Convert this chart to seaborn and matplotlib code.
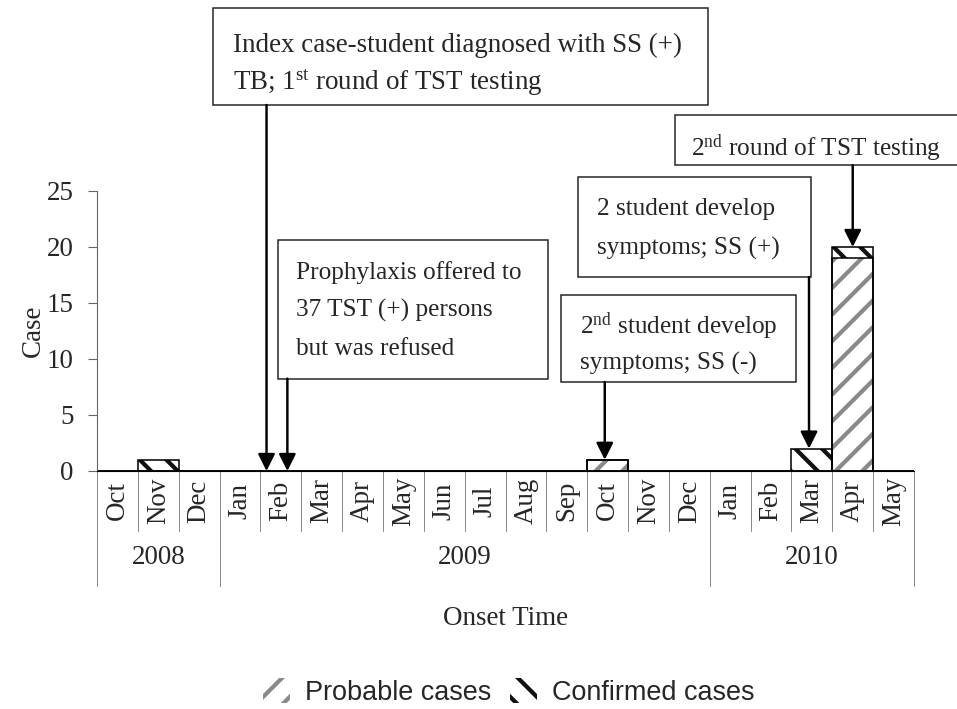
import matplotlib
matplotlib.use('Agg')
import matplotlib.pyplot as plt
import matplotlib.transforms as mtransforms
from matplotlib.patches import Patch, Rectangle
import seaborn as sns
import numpy as np
import pandas as pd

# Data: onset month of cases, Oct 2008 - May 2010
months = ['Oct', 'Nov', 'Dec',
          'Jan', 'Feb', 'Mar', 'Apr', 'May', 'Jun', 'Jul', 'Aug', 'Sep', 'Oct', 'Nov', 'Dec',
          'Jan', 'Feb', 'Mar', 'Apr', 'May']
years = ['2008', '2009', '2010']
year_first = [0, 3, 15]
year_last = [2, 14, 19]
probable = [0, 0, 0, 0, 0, 0, 0, 0, 0, 0, 0, 0, 1, 0, 0, 0, 0, 0, 19, 0]
confirmed = [0, 1, 0, 0, 0, 0, 0, 0, 0, 0, 0, 0, 0, 0, 0, 0, 0, 2, 1, 0]

df = pd.DataFrame({'pos': range(len(months)), 'probable': probable, 'confirmed': confirmed})
df['total'] = df['probable'] + df['confirmed']

sns.set_theme(style='white')
plt.rcParams['font.family'] = ['Liberation Serif', 'DejaVu Serif']
plt.rcParams['mathtext.fontset'] = 'custom'
plt.rcParams['mathtext.rm'] = 'Liberation Serif'
plt.rcParams['mathtext.it'] = 'Liberation Serif:italic'
plt.rcParams['mathtext.bf'] = 'Liberation Serif:bold'
plt.rcParams['hatch.linewidth'] = 3.8

DPI = 80
FS = 24.3       # axis text
FS_BOX = 22.7   # annotation boxes
GREY = '#8a8a8a'
fig = plt.figure(figsize=(957 / DPI, 709 / DPI), dpi=DPI)
ax = fig.add_axes([97 / 957, 1 - 471 / 709, 817 / 957, 280 / 709])

# stacked bars: total with confirmed hatch, probable drawn over it
sns.barplot(data=df, x='pos', y='total', color='white', edgecolor='#111111', linewidth=0,
            hatch='\\', width=1.0, errorbar=None, saturation=1, ax=ax)
sns.barplot(data=df, x='pos', y='probable', color='white', edgecolor=GREY, linewidth=0,
            hatch='/', width=1.0, errorbar=None, saturation=1, ax=ax)
sns.barplot(data=df, x='pos', y='total', color='black', fill=False, linewidth=1.4,
            width=1.0, errorbar=None, ax=ax)
sns.barplot(data=df, x='pos', y='probable', color='black', fill=False, linewidth=1.4,
            width=1.0, errorbar=None, ax=ax)

ax.set_xlim(-0.5, len(months) - 0.5)
ax.set_ylim(0, 25)
ax.set_yticks(range(0, 26, 5))
ax.tick_params(axis='y', length=8, width=1, color='#666666', labelsize=FS, pad=13, left=True)
ax.set_xticks(range(len(months)))
ax.set_xticklabels(months, rotation=90, va='center', fontsize=FS)
ax.tick_params(axis='x', length=0, pad=27)
ax.set_xlabel('')
sns.despine(ax=ax)
ax.spines['left'].set_color('#666666')
ax.spines['left'].set_linewidth(1)
ax.spines['bottom'].set_color('black')
ax.spines['bottom'].set_linewidth(1)
ax.set_ylabel('Case', fontsize=FS)
ax.yaxis.set_label_coords(-0.062, 0.5)

# month / year table under the axis
trans = mtransforms.blended_transform_factory(ax.transData, ax.transAxes)
for b in np.arange(-0.5, len(months)):
    ax.plot([b, b], [0, -0.214], transform=trans, color=GREY, lw=0.9, clip_on=False)
for yr, a, b in zip(years, year_first, year_last):
    for e in (a - 0.5, b + 0.5):
        ax.plot([e, e], [0, -0.411], transform=trans, color=GREY, lw=0.9, clip_on=False)
    ax.text((a + b) / 2, -0.31, yr, transform=trans, ha='center', va='center', fontsize=FS)
ax.text(0.5, -0.527, 'Onset Time', transform=ax.transAxes, ha='center', va='center', fontsize=FS)

# annotation boxes
def box(x0, x1, y0, y1, x_text, lines, fs=FS_BOX):
    ax.add_patch(Rectangle((x0, y0), x1 - x0, y1 - y0, facecolor='white', edgecolor='#222222',
                           lw=1.35, clip_on=False, zorder=5))
    for yy, s in lines:
        ax.text(x_text, yy, s, ha='left', va='baseline', fontsize=fs, clip_on=False, zorder=6)

def arrow(x, y_from, y_to):
    ax.annotate('', xy=(x, y_to), xytext=(x, y_from),
                arrowprops=dict(arrowstyle='-|>', color='black', lw=2.2, mutation_scale=32,
                                shrinkA=0, shrinkB=0),
                annotation_clip=False, zorder=7)

box(2.34, 14.46, 32.68, 41.34, 2.83,
    [(37.4, 'Index case-student diagnosed with SS (+)'),
     (34.0, r'TB; 1$^{\rm st}$ round of TST testing')], fs=FS)
arrow(3.65, 32.68, 0)

box(3.94, 10.54, 8.25, 20.6, 4.38,
    [(17.14, 'Prophylaxis offered to'),
     (13.75, '37 TST (+) persons'),
     (10.36, 'but was refused')])
arrow(4.16, 8.25, 0)

box(10.86, 16.61, 7.95, 15.71, 11.32,
    [(12.23, r'2$^{\rm nd}$ student develop'),
     (9.02, 'symptoms; SS (-)')])
arrow(11.93, 7.95, df['total'][12])

box(11.27, 16.98, 17.32, 26.25, 11.75,
    [(22.88, '2 student develop'),
     (19.34, 'symptoms; SS (+)')])
arrow(16.93, 17.32, df['total'][17])

box(13.65, 22.0, 27.3, 31.8, 14.04,
    [(28.15, r'2$^{\rm nd}$ round of TST testing')])
arrow(18.0, 27.3, df['total'][18])

handles = [Patch(facecolor='white', edgecolor=GREY, hatch='/', lw=0, label='Probable cases'),
           Patch(facecolor='white', edgecolor='#111111', hatch='\\', lw=0, label='Confirmed cases')]
fig.legend(handles=handles, loc='center', bbox_to_anchor=(509 / 957, 1 - 692 / 709), ncol=2,
           frameon=False, prop={'family': 'Liberation Sans', 'size': FS},
           handlelength=1.0, handleheight=1.0, handletextpad=0.55, columnspacing=0.7)

fig.savefig('out.png', dpi=DPI)
